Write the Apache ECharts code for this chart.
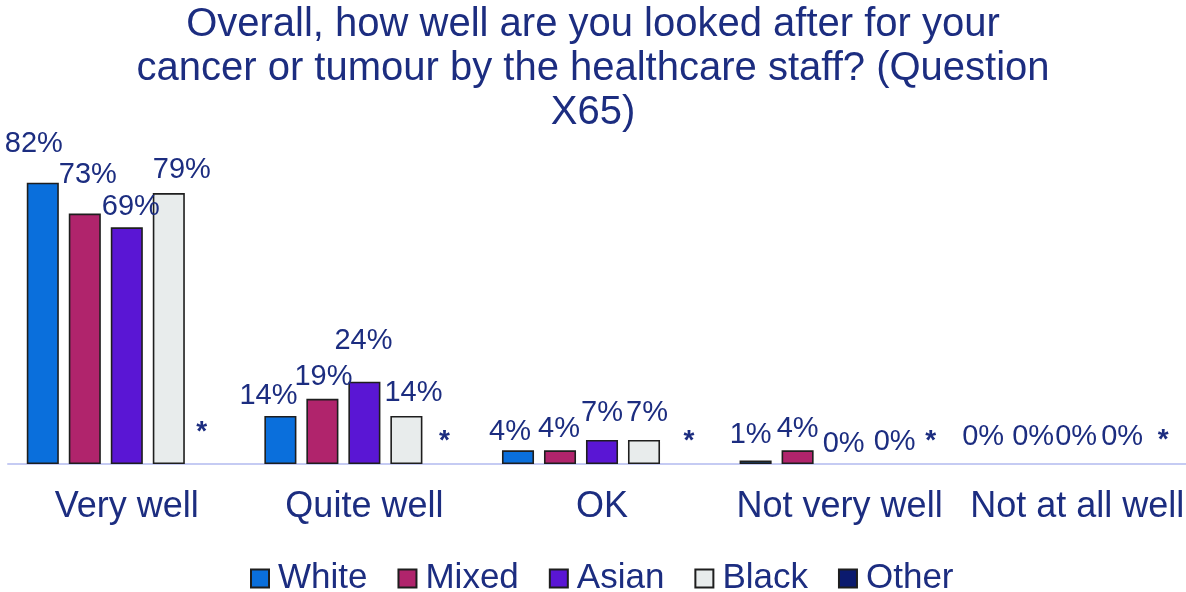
<!DOCTYPE html>
<html>
<head>
<meta charset="utf-8">
<script src="https://cdn.jsdelivr.net/npm/echarts@6/dist/echarts.min.js"></script>
<style>
  html, body { margin: 0; padding: 0; background: #ffffff; }
  #chart { width: 1186px; height: 592px; }
</style>
</head>
<body>
<div id="chart"></div>
<script>
// Answer categories (x axis)
const categories = ['Very well', 'Quite well', 'OK', 'Not very well', 'Not at all well'];

// Percentage of respondents per ethnic group
const whiteValues = [82, 14, 4, 1, 0];
const mixedValues = [73, 19, 4, 4, 0];
const asianValues = [69, 24, 7, 0, 0];
const blackValues = [79, 14, 7, 0, 0];
// "Other" group is suppressed (too few responses) and shown as "*"
const otherValues = [0, 0, 0, 0, 0];
const otherLabel = '*';

const seriesNames = ['White', 'Mixed', 'Asian', 'Black', 'Other'];

// Styling
const FONT = 'Liberation Sans, Arial, sans-serif';
const TEXT = '#1c2d80';
const colors = ['#0a6fdc', '#b0246c', '#5a16d4', '#e8ecec', '#0b1a6e'];
const BORDER = '#1e1e1e';

// Small per-label nudges [dx, dy] so the value labels sit clear of each other
const labelNudge = [
  [[-9, -19], [-12, 0], [-8, 1], [-5, -6], [-10, -8]],
  [[3, -19], [1, -2], [-1, -2], [0, -2], [-2, -8]],
  [[4, -1], [-1, -21], [0, -7], [4, -1], [-1, -8]],
  [[13, -4], [7, -3], [3, -7], [13, -3], [3, -8]],
  [[-9, -13], [-4, -4], [3, -4], [7, -4], [2, -5]]
];

const valueSets = [whiteValues, mixedValues, asianValues, blackValues, otherValues];

const series = valueSets.map((vals, i) => {
  const isOther = i === 4;
  return {
    name: seriesNames[i],
    type: 'bar',
    barGap: '31%',
    barCategoryGap: '15.8%',
    itemStyle: {
      color: colors[i],
      borderColor: BORDER,
      borderWidth: 1.6
    },
    label: {
      show: true,
      position: 'top',
      distance: 5,
      color: TEXT,
      fontFamily: FONT,
      fontSize: isOther ? 28 : 29,
      fontWeight: isOther ? 'bold' : 'normal',
      formatter: isOther ? otherLabel : '{c}%'
    },
    data: vals.map((v, k) => ({
      value: v,
      // a zero-height bar draws nothing, not even its outline
      itemStyle: v === 0 ? { borderWidth: 0 } : undefined,
      label: { offset: labelNudge[i][k] }
    }))
  };
});

const chart = echarts.init(document.getElementById('chart'));
chart.setOption({
  backgroundColor: '#ffffff',
  animation: false,
  title: {
    text: 'Overall, how well are you looked after for your\ncancer or tumour by the healthcare staff? (Question\nX65)',
    left: 'center',
    top: -2,
    textStyle: {
      color: TEXT,
      fontFamily: FONT,
      fontWeight: 'normal',
      fontSize: 40,
      lineHeight: 44
    }
  },
  legend: {
    data: seriesNames.map((n, i) => ({
      name: n,
      itemStyle: { color: colors[i], borderColor: BORDER, borderWidth: 2 }
    })),
    left: 245,
    top: 556,
    icon: 'rect',
    itemWidth: 18,
    itemHeight: 18,
    itemGap: 30,
    textStyle: {
      color: TEXT,
      fontFamily: FONT,
      fontSize: 35,
      padding: [0, 0, 0, 4]
    }
  },
  grid: {
    left: 8,
    right: -10,
    top: 121,
    bottom: 128,
    containLabel: false,
    outerBoundsMode: 'none'
  },
  xAxis: {
    type: 'category',
    data: categories,
    axisLine: { show: true, lineStyle: { color: '#c5cbf3', width: 2 } },
    axisTick: { show: false },
    axisLabel: {
      color: TEXT,
      fontFamily: FONT,
      fontSize: 36,
      margin: 25,
      interval: 0
    }
  },
  yAxis: {
    type: 'value',
    min: 0,
    max: 100,
    show: false,
    splitLine: { show: false }
  },
  series: series
});
</script>
</body>
</html>
